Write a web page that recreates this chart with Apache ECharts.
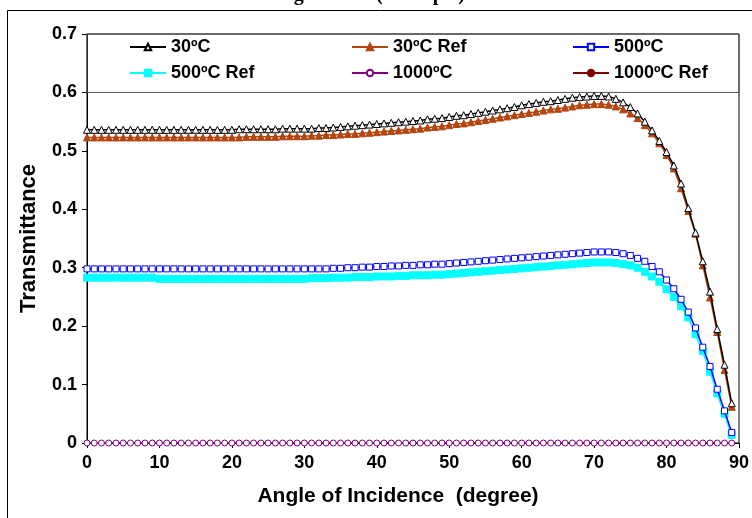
<!DOCTYPE html>
<html>
<head>
<meta charset="utf-8">
<script src="https://cdn.jsdelivr.net/npm/echarts@6/dist/echarts.min.js"></script>
<style>
  html, body { margin: 0; padding: 0; background: #fff; }
  #chart { width: 752px; height: 518px; }
</style>
</head>
<body>
<div id="chart"></div>
<script>
// angle of incidence, one point per degree
const angles = [
  0, 1, 2, 3, 4, 5, 6, 7, 8, 9,
  10, 11, 12, 13, 14, 15, 16, 17, 18, 19,
  20, 21, 22, 23, 24, 25, 26, 27, 28, 29,
  30, 31, 32, 33, 34, 35, 36, 37, 38, 39,
  40, 41, 42, 43, 44, 45, 46, 47, 48, 49,
  50, 51, 52, 53, 54, 55, 56, 57, 58, 59,
  60, 61, 62, 63, 64, 65, 66, 67, 68, 69,
  70, 71, 72, 73, 74, 75, 76, 77, 78, 79,
  80, 81, 82, 83, 84, 85, 86, 87, 88, 89
];
const xTicks = [0, 10, 20, 30, 40, 50, 60, 70, 80, 90];
const yTicks = [0, 0.1, 0.2, 0.3, 0.4, 0.5, 0.6, 0.7];

const t30 = [
  0.536, 0.536, 0.536, 0.536, 0.536, 0.536, 0.536, 0.536, 0.536, 0.536,
  0.536, 0.536, 0.536, 0.536, 0.536, 0.536, 0.536, 0.536, 0.536, 0.536,
  0.536, 0.537, 0.537, 0.537, 0.537, 0.537, 0.537, 0.538, 0.538, 0.538,
  0.538, 0.538, 0.539, 0.539, 0.540, 0.541, 0.542, 0.543, 0.544, 0.545,
  0.546, 0.547, 0.548, 0.549, 0.550, 0.551, 0.552, 0.554, 0.555, 0.556,
  0.558, 0.560, 0.561, 0.563, 0.565, 0.567, 0.569, 0.571, 0.573, 0.575,
  0.578, 0.580, 0.582, 0.584, 0.585, 0.587, 0.589, 0.591, 0.592, 0.593,
  0.594, 0.594, 0.593, 0.589, 0.583, 0.575, 0.564, 0.550, 0.535, 0.517,
  0.498, 0.475, 0.444, 0.402, 0.360, 0.311, 0.259, 0.195, 0.134, 0.068
];
const t30Ref = [
  0.523, 0.523, 0.523, 0.523, 0.523, 0.523, 0.523, 0.523, 0.523, 0.523,
  0.523, 0.523, 0.523, 0.523, 0.523, 0.523, 0.523, 0.523, 0.523, 0.523,
  0.523, 0.523, 0.524, 0.524, 0.524, 0.524, 0.524, 0.525, 0.525, 0.525,
  0.525, 0.526, 0.526, 0.527, 0.527, 0.528, 0.529, 0.529, 0.530, 0.531,
  0.532, 0.533, 0.534, 0.535, 0.536, 0.537, 0.538, 0.540, 0.541, 0.542,
  0.544, 0.546, 0.547, 0.549, 0.551, 0.553, 0.555, 0.557, 0.559, 0.561,
  0.563, 0.565, 0.567, 0.569, 0.571, 0.572, 0.574, 0.576, 0.578, 0.579,
  0.580, 0.580, 0.579, 0.576, 0.571, 0.564, 0.556, 0.544, 0.530, 0.513,
  0.493, 0.470, 0.436, 0.397, 0.358, 0.304, 0.249, 0.190, 0.125, 0.062
];
const t500 = [
  0.298, 0.298, 0.298, 0.298, 0.298, 0.298, 0.298, 0.298, 0.298, 0.298,
  0.298, 0.298, 0.298, 0.298, 0.298, 0.298, 0.298, 0.298, 0.298, 0.298,
  0.298, 0.298, 0.298, 0.298, 0.298, 0.298, 0.298, 0.298, 0.298, 0.298,
  0.298, 0.298, 0.298, 0.298, 0.299, 0.299, 0.300, 0.300, 0.301, 0.301,
  0.302, 0.302, 0.303, 0.303, 0.304, 0.304, 0.305, 0.305, 0.306, 0.306,
  0.307, 0.308, 0.309, 0.310, 0.311, 0.312, 0.313, 0.314, 0.315, 0.316,
  0.317, 0.318, 0.319, 0.320, 0.321, 0.322, 0.323, 0.324, 0.325, 0.326,
  0.327, 0.327, 0.327, 0.326, 0.324, 0.321, 0.316, 0.311, 0.302, 0.293,
  0.279, 0.264, 0.246, 0.224, 0.197, 0.164, 0.131, 0.092, 0.055, 0.018
];
const t500Ref = [
  0.283, 0.283, 0.283, 0.283, 0.283, 0.283, 0.283, 0.283, 0.283, 0.283,
  0.281, 0.281, 0.281, 0.281, 0.281, 0.281, 0.281, 0.281, 0.281, 0.281,
  0.281, 0.281, 0.281, 0.281, 0.281, 0.281, 0.281, 0.281, 0.281, 0.281,
  0.281, 0.282, 0.282, 0.282, 0.283, 0.283, 0.283, 0.284, 0.284, 0.284,
  0.285, 0.285, 0.285, 0.286, 0.286, 0.287, 0.287, 0.287, 0.288, 0.288,
  0.289, 0.290, 0.291, 0.292, 0.293, 0.294, 0.295, 0.296, 0.297, 0.298,
  0.299, 0.300, 0.301, 0.302, 0.303, 0.304, 0.305, 0.306, 0.307, 0.308,
  0.309, 0.309, 0.309, 0.308, 0.306, 0.304, 0.300, 0.293, 0.285, 0.276,
  0.263, 0.250, 0.234, 0.215, 0.186, 0.157, 0.122, 0.085, 0.050, 0.014
];
const t1000 = [
  0, 0, 0, 0, 0, 0, 0, 0, 0, 0,
  0, 0, 0, 0, 0, 0, 0, 0, 0, 0,
  0, 0, 0, 0, 0, 0, 0, 0, 0, 0,
  0, 0, 0, 0, 0, 0, 0, 0, 0, 0,
  0, 0, 0, 0, 0, 0, 0, 0, 0, 0,
  0, 0, 0, 0, 0, 0, 0, 0, 0, 0,
  0, 0, 0, 0, 0, 0, 0, 0, 0, 0,
  0, 0, 0, 0, 0, 0, 0, 0, 0, 0,
  0, 0, 0, 0, 0, 0, 0, 0, 0, 0
];
const t1000Ref = [
  0, 0, 0, 0, 0, 0, 0, 0, 0, 0,
  0, 0, 0, 0, 0, 0, 0, 0, 0, 0,
  0, 0, 0, 0, 0, 0, 0, 0, 0, 0,
  0, 0, 0, 0, 0, 0, 0, 0, 0, 0,
  0, 0, 0, 0, 0, 0, 0, 0, 0, 0,
  0, 0, 0, 0, 0, 0, 0, 0, 0, 0,
  0, 0, 0, 0, 0, 0, 0, 0, 0, 0,
  0, 0, 0, 0, 0, 0, 0, 0, 0, 0,
  0, 0, 0, 0, 0, 0, 0, 0, 0, 0
];

const names = ['30ºC', '30ºC Ref', '500ºC', '500ºC Ref', '1000ºC', '1000ºC Ref'];

const pairs = (vals) => angles.map((a, i) => [a, vals[i]]);
const font = 'Liberation Sans, Arial, sans-serif';

const chart = echarts.init(document.getElementById('chart'));

// legend laid out as two rows of three, like the excel box
const legendCols = [129, 351, 572];
const legendRows = [38, 64];
const legends = names.map((n, i) => ({
  data: [n],
  left: legendCols[i % 3],
  top: legendRows[Math.floor(i / 3)],
  itemWidth: 36,
  itemHeight: 8,
  itemGap: 5,
  padding: 0,
  selectedMode: false,
  textStyle: { fontFamily: font, fontWeight: 'bold', fontSize: 18, color: '#000' }
}));

function lineSeries(name, vals, color, symbol, fill, size, width, z) {
  return {
    name: name,
    type: 'line',
    data: pairs(vals),
    symbol: symbol,
    symbolSize: size,
    showAllSymbol: true,
    animation: false,
    z: z,
    lineStyle: { color: color, width: width },
    itemStyle: { color: fill, borderColor: color, borderWidth: 1 }
  };
}

chart.setOption({
  animation: false,
  legend: legends,
  grid: {
    left: 87, right: 4, top: 34, bottom: 75,
    show: true, borderColor: '#000', borderWidth: 1
  },
  xAxis: {
    type: 'value',
    min: 0, max: 90, interval: 10,
    name: 'Angle of Incidence  (degree)',
    nameLocation: 'middle',
    nameGap: 43,
    nameTextStyle: {
      fontFamily: font, fontWeight: 'bold', fontSize: 21, color: '#000',
      padding: [0, 30, 0, 0]
    },
    axisLine: { lineStyle: { color: '#000', width: 1 } },
    axisTick: { show: true, inside: false, length: 5, lineStyle: { color: '#000' } },
    axisLabel: {
      margin: 11,
      fontFamily: font, fontWeight: 'bold', fontSize: 18, color: '#000',
      formatter: (v) => xTicks.includes(v) ? String(v) : ''
    },
    splitLine: { show: false }
  },
  yAxis: {
    type: 'value',
    min: 0, max: 0.7, interval: 0.1,
    name: 'Transmittance',
    nameLocation: 'middle',
    nameGap: 47,
    nameTextStyle: { fontFamily: font, fontWeight: 'bold', fontSize: 22, color: '#000' },
    axisLine: { show: true, lineStyle: { color: '#000', width: 1 } },
    axisTick: { show: true, inside: false, length: 5, lineStyle: { color: '#000' } },
    axisLabel: {
      margin: 10,
      fontFamily: font, fontWeight: 'bold', fontSize: 18, color: '#000',
      formatter: (v) => {
        const t = yTicks.find((k) => Math.abs(k - v) < 1e-6);
        return t === undefined ? '' : String(t);
      }
    },
    splitLine: { show: false }
  },
  series: [
    lineSeries(names[0], t30, '#000000', 'triangle', '#ffffff', 7, 1.5, 4),
    lineSeries(names[1], t30Ref, '#b4450e', 'triangle', '#b4450e', 7, 1.5, 3),
    lineSeries(names[2], t500, '#0000ff', 'rect', '#ffffff', 6, 1.5, 4),
    lineSeries(names[3], t500Ref, '#00ffff', 'rect', '#00ffff', 7, 2, 3),
    lineSeries(names[4], t1000, '#800080', 'circle', '#ffffff', 6, 1.5, 4),
    lineSeries(names[5], t1000Ref, '#800000', 'circle', '#800000', 5, 1.5, 2)
  ]
});

// legend frame spans the band 0.6 - 0.7 across the whole plot
const p0 = chart.convertToPixel({ gridIndex: 0 }, [0, 0.7]);
const p1 = chart.convertToPixel({ gridIndex: 0 }, [90, 0.6]);
chart.setOption({
  graphic: [
    {
      type: 'rect',
      shape: { x: p0[0], y: p0[1], width: p1[0] - p0[0], height: p1[1] - p0[1] },
      style: { fill: 'rgba(255,255,255,0)', stroke: '#555', lineWidth: 1 },
      z: 1
    },
    {
      type: 'rect',
      shape: { x: 7.5, y: 10.5, width: 800, height: 600 },
      style: { fill: 'none', stroke: '#000', lineWidth: 1 },
      silent: true
    },
    {
      type: 'text',
      left: 236, top: -15,
      style: {
        text: 'Coating Results (Example)',
        font: 'bold 20px "Liberation Serif", "Times New Roman", serif',
        fill: '#000'
      }
    }
  ]
});
</script>
</body>
</html>
